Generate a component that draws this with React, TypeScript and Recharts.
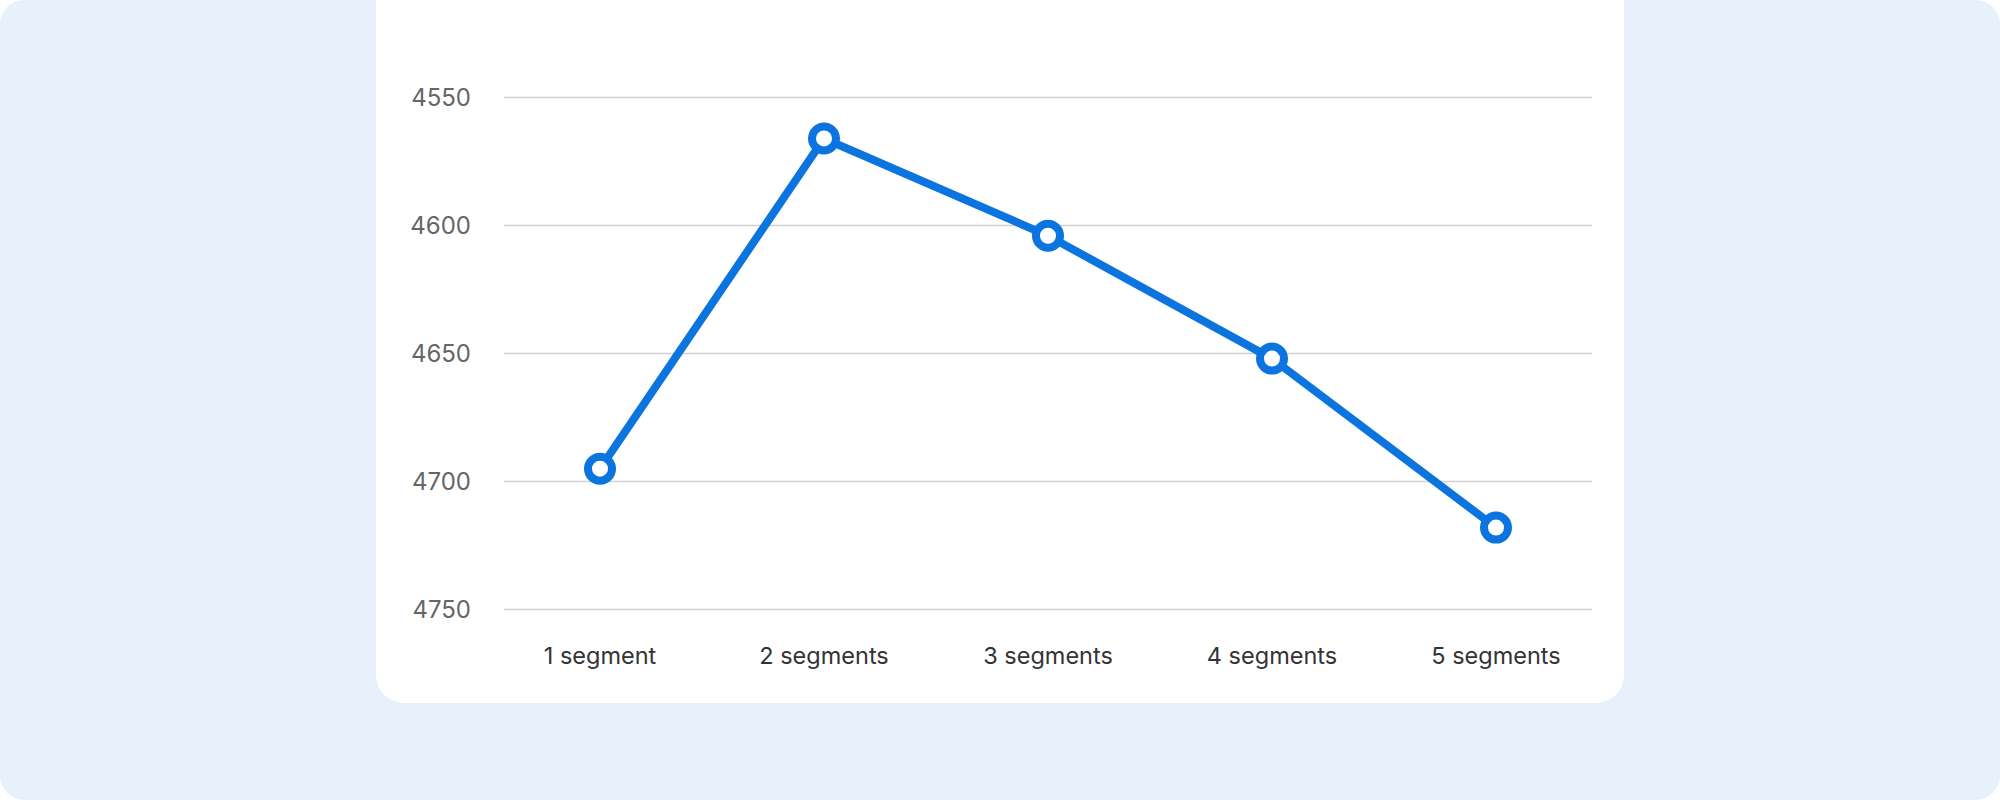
import React from "react";
import { LineChart, Line, XAxis, YAxis, CartesianGrid } from "recharts";

const categories = ["1 segment", "2 segments", "3 segments", "4 segments", "5 segments"];
const values = [4695, 4566, 4604, 4652, 4718];
const yTicks = [4550, 4600, 4650, 4700, 4750];

const data = categories.map((name, i) => ({ name, value: values[i] }));

const FONT = "Inter, 'Noto Sans', sans-serif";

export default function App() {
  return (
    <div style={{ position: "absolute", left: 0, top: 0, width: 2000, height: 800, background: "#fff" }}>
      <style>{"body{margin:0}"}</style>
      <div
        style={{
          position: "absolute",
          left: 0,
          top: 0,
          width: 2000,
          height: 800,
          background: "#E8F1FB",
          borderRadius: 24,
        }}
      />
      <div
        style={{
          position: "absolute",
          left: 376,
          top: -40,
          width: 1248,
          height: 743,
          background: "#FFFFFF",
          borderRadius: 28,
        }}
      />
      <div style={{ position: "absolute", left: 0, top: 0 }}>
        <LineChart
          width={2000}
          height={800}
          data={data}
          margin={{ top: 97.5, bottom: 160.5, left: 424, right: 408 }}
        >
          <CartesianGrid vertical={false} stroke="#D2D2D2" strokeWidth={1.5} />
          <XAxis
            dataKey="name"
            height={30}
            axisLine={false}
            tickLine={false}
            tickSize={0}
            tickMargin={38}
            padding={{ left: 96, right: 96 }}
            tick={{ fill: "#333333", fontSize: 23.5, fontFamily: FONT }}
            interval={0}
          />
          <YAxis
            width={80}
            reversed
            domain={[4550, 4750]}
            ticks={yTicks}
            axisLine={false}
            tickLine={false}
            tickSize={0}
            tickMargin={33}
            tick={{ fill: "#666666", fontSize: 24, fontFamily: FONT }}
          />
          <Line
            type="linear"
            dataKey="value"
            stroke="#0B74DE"
            strokeWidth={8}
            dot={{ r: 12, fill: "#FFFFFF", stroke: "#0B74DE", strokeWidth: 8 }}
            activeDot={false}
            isAnimationActive={false}
          />
        </LineChart>
      </div>
    </div>
  );
}
